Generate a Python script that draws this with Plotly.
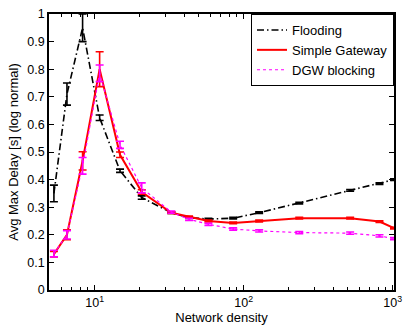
import plotly.graph_objects as go
import numpy as np

density = [5.33, 6.52, 8.3, 10.8, 14.8, 20.7, 32.7, 43, 58, 85, 127, 236, 518, 815, 1020]

flood = [0.35, 0.71, 0.95, 0.624, 0.432, 0.335, 0.28, 0.262, 0.257, 0.26, 0.28, 0.315, 0.361, 0.385, 0.40]
flood_err = [0.03, 0.04, 0.05, 0.01, 0.006, 0.006, 0.003, 0.003, 0.003, 0.003, 0.003, 0.003, 0.003, 0.003, 0.003]

gw = [0.13, 0.20, 0.468, 0.80, 0.49, 0.355, 0.28, 0.265, 0.25, 0.243, 0.25, 0.26, 0.26, 0.248, 0.224]
gw_err = [0.01, 0.018, 0.033, 0.063, 0.01, 0.008, 0.003, 0.003, 0.003, 0.003, 0.003, 0.003, 0.003, 0.003, 0.003]

dgw = [0.132, 0.20, 0.45, 0.785, 0.526, 0.37, 0.282, 0.256, 0.238, 0.221, 0.214, 0.208, 0.206, 0.196, 0.186]
dgw_err = [0.012, 0.015, 0.03, 0.03, 0.013, 0.018, 0.004, 0.004, 0.004, 0.004, 0.004, 0.004, 0.004, 0.004, 0.004]

series_names = ["Flooding", "Simple Gateway", "DGW blocking"]
y_ticks = [0, 0.1, 0.2, 0.3, 0.4, 0.5, 0.6, 0.7, 0.8, 0.9, 1]
y_ticktext = ["0", "0.1", "0.2", "0.3", "0.4", "0.5", "0.6", "0.7", "0.8", "0.9", "1"]
x_ticks = [10, 100, 1000]
x_ticktext = ["10<sup>1</sup>", "10<sup>2</sup>", "10<sup>3</sup>"]

fig = go.Figure()
fig.add_trace(go.Scatter(
    x=density, y=flood, name=series_names[0], mode="lines",
    line=dict(color="black", width=1.6, dash="7px,3px,1.5px,3px"),
    error_y=dict(type="data", array=flood_err, color="black", thickness=1.6, width=4),
))
fig.add_trace(go.Scatter(
    x=density, y=gw, name=series_names[1], mode="lines",
    line=dict(color="#ff0000", width=2),
    error_y=dict(type="data", array=gw_err, color="#ff0000", thickness=1.6, width=4),
))
fig.add_trace(go.Scatter(
    x=density, y=dgw, name=series_names[2], mode="lines",
    line=dict(color="#ff00ff", width=1.2, dash="dot"),
    error_y=dict(type="data", array=dgw_err, color="#ff00ff", thickness=1.6, width=4),
))

minor_vals = [v * m for m in (1, 10, 100) for v in range(2, 10) if v * m >= 5]

fig.update_layout(
    width=409, height=330,
    margin=dict(l=49, r=7, t=11, b=39),
    paper_bgcolor="white", plot_bgcolor="white",
    font=dict(family="Liberation Sans, Arial, sans-serif", size=12.5, color="black"),
    showlegend=True,
    legend=dict(
        x=1.0, y=1.0, xanchor="right", yanchor="top",
        bordercolor="black", borderwidth=1, bgcolor="white",
        font=dict(size=13), tracegroupgap=0,
        itemwidth=30,
    ),
    xaxis=dict(
        type="log", range=[np.log10(4.94), np.log10(1020)],
        tickvals=x_ticks, ticktext=x_ticktext,
        ticks="inside", ticklen=5, tickwidth=1, tickcolor="black",
        showline=True, linecolor="black", linewidth=1.5, mirror="ticks",
        showgrid=False, zeroline=False,
        minor=dict(tickvals=minor_vals, ticks="inside", ticklen=3, tickcolor="black", showgrid=False),
        title=dict(text="Network density", font=dict(size=13), standoff=4),
    ),
    yaxis=dict(
        range=[0, 1], tickvals=y_ticks, ticktext=y_ticktext,
        ticks="inside", ticklen=5, tickwidth=1, tickcolor="black",
        showline=True, linecolor="black", linewidth=1.5, mirror="ticks",
        showgrid=False, zeroline=False,
        title=dict(text="Avg Max Delay [s] (log normal)", font=dict(size=13), standoff=6),
    ),
)

fig.write_html("out.html")
